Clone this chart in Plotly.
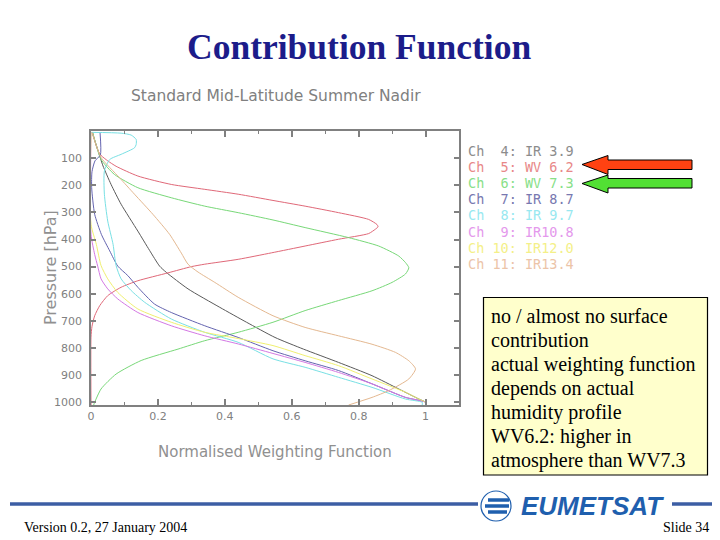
import plotly.graph_objects as go

# ---------------- data ----------------
channels = ["Ch\u00a0\u00a04: IR\u00a03.9", "Ch\u00a0\u00a05: WV\u00a06.2", "Ch\u00a0\u00a06: WV\u00a07.3",
            "Ch\u00a0\u00a07: IR\u00a08.7", "Ch\u00a0\u00a08: IR\u00a09.7", "Ch\u00a0\u00a09: IR10.8",
            "Ch\u00a010: IR12.0", "Ch\u00a011: IR13.4"]

ch4_p = [5, 60, 100, 129, 197, 270, 369, 440, 498, 521, 582, 650, 705, 761, 804, 853, 902, 951, 988, 1000, 1010]
ch4_w = [0.003, 0.018, 0.028, 0.036, 0.06, 0.09, 0.14, 0.175, 0.205, 0.225, 0.29, 0.385, 0.465, 0.55, 0.635, 0.74, 0.84, 0.92, 0.98, 1.0, 1.0]

ch5_p = [5, 40, 70, 90, 110, 130, 166, 197, 215, 233, 256, 277, 301, 326, 345, 353, 362, 378, 399, 424, 449, 473, 491, 500, 523, 552, 576, 607, 644, 681, 720, 760, 1010]
ch5_w = [0.005, 0.012, 0.02, 0.03, 0.05, 0.075, 0.14, 0.24, 0.34, 0.44, 0.544, 0.64, 0.74, 0.83, 0.855, 0.858, 0.85, 0.83, 0.74, 0.64, 0.54, 0.44, 0.34, 0.30, 0.23, 0.14, 0.09, 0.05, 0.026, 0.011, 0.003, 0.0, 0.0]

ch6_p = [5, 50, 105, 160, 209, 246, 277, 301, 328, 356, 393, 424, 461, 485, 504, 527, 558, 589, 625, 662, 705, 742, 773, 804, 846, 896, 951, 1000, 1010]
ch6_w = [0.005, 0.015, 0.03, 0.07, 0.14, 0.24, 0.34, 0.44, 0.544, 0.64, 0.77, 0.86, 0.92, 0.94, 0.95, 0.94, 0.90, 0.84, 0.74, 0.64, 0.544, 0.44, 0.34, 0.26, 0.15, 0.075, 0.03, 0.011, 0.008]

ch7_p = [5, 88, 110, 150, 209, 307, 381, 442, 498, 533, 576, 638, 669, 718, 761, 810, 847, 883, 932, 982, 1000, 1010]
ch7_w = [0.027, 0.028, 0.012, 0.003, 0.002, 0.011, 0.031, 0.056, 0.08, 0.11, 0.14, 0.19, 0.24, 0.34, 0.44, 0.544, 0.64, 0.74, 0.84, 0.94, 1.0, 1.0]

ch8_p = [5, 8, 15, 31, 50, 62, 86, 105, 148, 233, 332, 418, 496, 545, 588, 631, 693, 742, 779, 840, 871, 908, 945, 988, 1000, 1010]
ch8_w = [0.0, 0.09, 0.12, 0.135, 0.135, 0.13, 0.09, 0.056, 0.04, 0.04, 0.05, 0.066, 0.075, 0.09, 0.12, 0.16, 0.24, 0.34, 0.44, 0.544, 0.64, 0.74, 0.84, 0.94, 0.99, 0.99]

ch9_p = [5, 381, 455, 498, 545, 582, 619, 669, 718, 755, 785, 820, 853, 890, 932, 982, 1000, 1010]
ch9_w = [0.0, 0.0, 0.011, 0.02, 0.03, 0.05, 0.08, 0.14, 0.24, 0.34, 0.44, 0.544, 0.64, 0.74, 0.84, 0.94, 1.0, 1.0]

ch10_p = [5, 344, 418, 496, 545, 595, 656, 705, 742, 765, 791, 828, 865, 914, 963, 988, 1000, 1010]
ch10_w = [0.0, 0.0, 0.016, 0.03, 0.05, 0.08, 0.14, 0.24, 0.34, 0.44, 0.544, 0.64, 0.74, 0.84, 0.94, 0.98, 1.0, 1.0]

ch11_p = [5, 50, 98, 172, 233, 307, 381, 450, 491, 520, 558, 613, 681, 724, 755, 786, 816, 847, 877, 914, 957, 982, 1010]
ch11_w = [0.003, 0.015, 0.03, 0.085, 0.13, 0.185, 0.235, 0.27, 0.29, 0.32, 0.37, 0.44, 0.544, 0.64, 0.74, 0.84, 0.91, 0.95, 0.97, 0.95, 0.89, 0.84, 0.77]

line_colors = ["#5a5a5a", "#e06878", "#78d878", "#6464b0", "#78e0e4", "#d478e4", "#f0f070", "#e4b890"]
text_colors = ["#8c8c8c", "#e88888", "#88e088", "#7878b0", "#98e8f0", "#e498ec", "#f4f088", "#ecc4a8"]

y_ticks = [100, 200, 300, 400, 500, 600, 700, 800, 900, 1000]
x_ticks = [0, 0.2, 0.4, 0.6, 0.8, 1.0]
x_labels = ["0", "0.2", "0.4", "0.6", "0.8", "1"]

note_lines = ["no / almost no surface", "contribution", "actual weighting function",
              "depends on actual", "humidity profile", "WV6.2: higher in", "atmosphere than WV7.3"]

# ---------------- layout helpers ----------------
W, H = 720, 540
L, R, T, B = 91, 459, 131, 405
PW, PH = R - L, B - T


def px(x):
    return (x - L) / PW


def py(y):
    return (B - y) / PH


series = [(ch4_w, ch4_p), (ch5_w, ch5_p), (ch6_w, ch6_p), (ch7_w, ch7_p),
          (ch8_w, ch8_p), (ch9_w, ch9_p), (ch10_w, ch10_p), (ch11_w, ch11_p)]

fig = go.Figure()
for (w, p), c, name in zip(series, line_colors, channels):
    fig.add_trace(go.Scatter(x=w, y=p, mode="lines", name=name,
                             line=dict(color=c, width=1, shape="spline", smoothing=0.6),
                             showlegend=False, hoverinfo="skip"))

gray = "#808080"
fig.update_xaxes(range=[0, 1.1], tickvals=x_ticks, ticktext=x_labels,
                 ticks="inside", ticklen=6, tickcolor=gray, tickwidth=1.5,
                 minor=dict(dtick=0.1, tick0=0, ticks="inside", ticklen=3, tickcolor=gray, tickwidth=1),
                 showline=True, linecolor=gray, linewidth=1.5, mirror="ticks",
                 showgrid=False, zeroline=False,
                 tickfont=dict(family="DejaVu Sans", size=11, color=gray))
fig.update_yaxes(range=[1010, 0], tickvals=y_ticks,
                 ticks="inside", ticklen=5, tickcolor=gray, tickwidth=1.5,
                 showline=True, linecolor=gray, linewidth=1.5, mirror="ticks",
                 showgrid=False, zeroline=False, ticklabelstandoff=5,
                 tickfont=dict(family="DejaVu Sans", size=11, color=gray))

ann = []
shapes = []

# title
ann.append(dict(x=px(359), y=py(47), text="<b>Contribution Function</b>", showarrow=False,
                font=dict(family="Liberation Serif", size=35.5, color="#1c1c8a"),
                xanchor="center", yanchor="middle"))
# subtitle
ann.append(dict(x=px(275.5), y=py(96), text="Standard Mid-Latitude Summer Nadir", showarrow=False,
                font=dict(family="DejaVu Sans", size=15.5, color=gray), xanchor="center", yanchor="middle"))
# axis titles
ann.append(dict(x=px(50), y=py(268), text="Pressure [hPa]", showarrow=False, textangle=-90,
                font=dict(family="DejaVu Sans", size=16, color="#909090"), xanchor="center", yanchor="middle"))
ann.append(dict(x=px(275), y=py(452), text="Normalised Weighting Function", showarrow=False,
                font=dict(family="DejaVu Sans", size=15, color="#909090"), xanchor="center", yanchor="middle"))

# channel legend as text
for i, (name, c) in enumerate(zip(channels, text_colors)):
    ann.append(dict(x=px(466), y=py(150.5 + i * 16.2), text=name, showarrow=False,
                    font=dict(family="DejaVu Sans Mono", size=13.5, color=c),
                    xanchor="left", yanchor="middle"))


def path(points):
    s = "M " + " L ".join(f"{px(a):.5f},{py(b):.5f}" for a, b in points) + " Z"
    return s


# arrows
red_arrow = [(582, 164.5), (608, 155.5), (608, 160), (692, 160), (692, 169.5), (608, 169.5), (608, 174.5)]
green_arrow = [(582, 183.5), (608, 175), (608, 178.5), (692, 178.5), (692, 188), (608, 188), (608, 193)]
shapes.append(dict(type="path", xref="paper", yref="paper", path=path(red_arrow),
                   fillcolor="#ff4212", line=dict(color="black", width=1)))
shapes.append(dict(type="path", xref="paper", yref="paper", path=path(green_arrow),
                   fillcolor="#52e034", line=dict(color="black", width=1)))

# note box
shapes.append(dict(type="rect", xref="paper", yref="paper", x0=px(483.5), x1=px(707.5), y0=py(475), y1=py(297.5),
                   fillcolor="#ffffcc", line=dict(color="black", width=1.2)))
for i, t in enumerate(note_lines):
    ann.append(dict(x=px(489), y=py(316 + i * 24), text=t, showarrow=False,
                    font=dict(family="Liberation Serif", size=20, color="black"),
                    xanchor="left", yanchor="middle"))

# footer
foot_blue = "#3c5ea4"
shapes.append(dict(type="line", xref="paper", yref="paper", x0=px(10), x1=px(478), y0=py(504), y1=py(504),
                   line=dict(color=foot_blue, width=3.5)))
shapes.append(dict(type="line", xref="paper", yref="paper", x0=px(672), x1=px(712), y0=py(504), y1=py(504),
                   line=dict(color=foot_blue, width=3.5)))
# globe
logo_blue = "#1f5fae"
shapes.append(dict(type="circle", xref="paper", yref="paper", x0=px(481), x1=px(511), y0=py(521), y1=py(491),
                   line=dict(color=logo_blue, width=1.2), fillcolor="white"))
for yy, xa, xb in [(500, 488, 509), (506, 485, 509), (512, 488, 507)]:
    shapes.append(dict(type="line", xref="paper", yref="paper", x0=px(xa), x1=px(xb), y0=py(yy), y1=py(yy),
                       line=dict(color=logo_blue, width=3.5)))
ann.append(dict(x=px(592), y=py(506), text="<b><i>EUMETSAT</i></b>", showarrow=False,
                font=dict(family="Liberation Sans", size=26, color=logo_blue), xanchor="center", yanchor="middle"))

ann.append(dict(x=px(22), y=py(527), text="Version 0.2, 27 January 2004", showarrow=False,
                font=dict(family="Liberation Serif", size=14, color="black"), xanchor="left", yanchor="middle"))
ann.append(dict(x=px(711), y=py(527), text="Slide 34", showarrow=False,
                font=dict(family="Liberation Serif", size=14, color="black"), xanchor="right", yanchor="middle"))

for a in ann:
    a.setdefault("xref", "paper")
    a.setdefault("yref", "paper")

fig.update_layout(width=W, height=H, margin=dict(l=L, r=W - R, t=T, b=H - B, pad=0),
                  paper_bgcolor="white", plot_bgcolor="white",
                  annotations=ann, shapes=shapes, showlegend=False)

fig.write_html("out.html", config={"displayModeBar": False},
               post_script="document.body.style.margin='0';document.body.style.overflow='hidden';")
